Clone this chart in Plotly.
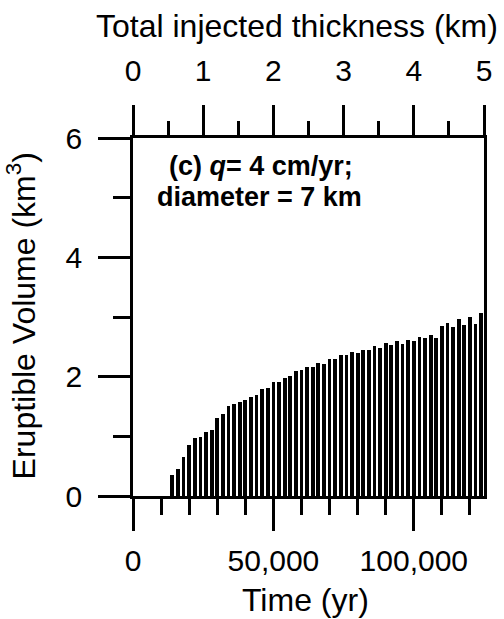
import plotly.graph_objects as go

# Eruption times (yr) and eruptible volume (km^3) at each step
time_yr = [14000, 16000, 18000, 20000, 22000, 24000, 26000, 28000, 30000, 32000,
           34000, 36000, 38000, 40000, 42000, 44000, 46000, 48000, 50000, 52000,
           54000, 56000, 58000, 60000, 62000, 64000, 66000, 68000, 70000, 72000,
           74000, 76000, 78000, 80000, 82000, 84000, 86000, 88000, 90000, 92000,
           94000, 96000, 98000, 100000, 102000, 104000, 106000, 108000, 110000, 112000,
           114000, 116000, 118000, 120000, 122000, 124000]
volume_km3 = [0.36, 0.46, 0.66, 0.85, 0.97, 0.99, 1.08, 1.10, 1.31, 1.38,
              1.51, 1.54, 1.58, 1.61, 1.66, 1.70, 1.79, 1.81, 1.91, 1.91,
              1.98, 2.01, 2.09, 2.11, 2.16, 2.16, 2.23, 2.21, 2.29, 2.30,
              2.36, 2.36, 2.42, 2.40, 2.44, 2.44, 2.51, 2.48, 2.57, 2.53,
              2.60, 2.55, 2.62, 2.60, 2.66, 2.64, 2.70, 2.65, 2.85, 2.90,
              2.83, 2.97, 2.86, 3.00, 2.89, 3.07]

injection_rate_m_per_yr = 0.04  # q = 4 cm/yr

time_ticks = [0, 50000, 100000]
time_tick_labels = ["0", "50,000", "100,000"]
thickness_ticks = [0, 1, 2, 3, 4, 5]
volume_ticks = [0, 2, 4, 6]

# Injected thickness (km) reached at each eruption time
thickness_km = [t * injection_rate_m_per_yr / 1000 for t in time_yr]

FONT = "Liberation Sans, Arial, sans-serif"
LW = 2.6

fig = go.Figure()
fig.add_trace(go.Bar(
    x=time_yr, y=volume_km3, width=1350,
    marker=dict(color="black", line=dict(width=0)),
    showlegend=False, hoverinfo="x+y",
))
# Same volumes against injected thickness; keeps the top axis active
fig.add_trace(go.Scatter(
    x=thickness_km, y=volume_km3, xaxis="x2", mode="markers",
    marker=dict(size=1, opacity=0), showlegend=False, hoverinfo="skip",
))

tickfont = dict(family=FONT, size=30, color="black")

fig.update_layout(
    width=504, height=619, autosize=False,
    margin=dict(l=133, r=15, t=138, b=123),
    paper_bgcolor="white", plot_bgcolor="white",
    bargap=0,
    xaxis=dict(
        range=[0, 125000], showgrid=False, zeroline=False,
        showline=True, linecolor="black", linewidth=LW,
        tickmode="array", tickvals=time_ticks, ticktext=time_tick_labels,
        ticks="outside", ticklen=32, tickwidth=LW, tickcolor="black",
        tickfont=tickfont, ticklabelstandoff=4,
        minor=dict(dtick=10000, tick0=0, ticks="outside", ticklen=16,
                   tickwidth=LW, tickcolor="black"),
    ),
    xaxis2=dict(
        range=[0, 5], overlaying="x", side="top", anchor="y",
        showgrid=False, zeroline=False,
        showline=True, linecolor="black", linewidth=LW,
        tickmode="array", tickvals=thickness_ticks,
        ticks="outside", ticklen=30, tickwidth=LW, tickcolor="black",
        tickfont=tickfont, ticklabelstandoff=12,
        minor=dict(dtick=0.5, tick0=0, ticks="outside", ticklen=14,
                   tickwidth=LW, tickcolor="black"),
    ),
    yaxis=dict(
        range=[0, 6], showgrid=False, zeroline=False,
        showline=True, mirror=True, linecolor="black", linewidth=LW,
        tickmode="array", tickvals=volume_ticks,
        ticks="outside", ticklen=32, tickwidth=LW, tickcolor="black",
        tickfont=tickfont, ticklabelstandoff=10,
        minor=dict(dtick=1, tick0=0, ticks="outside", ticklen=17,
                   tickwidth=LW, tickcolor="black"),
    ),
)

titlefont = dict(family=FONT, size=32, color="black")
boldfont = dict(family=FONT, size=27, color="black", weight="bold")

annotations = [
    dict(text="Total injected thickness (km)", x=0.468, y=1.313,
         font=titlefont),
    dict(text="Time (yr)", x=0.4916, y=-0.2905, font=titlefont),
    dict(text="Eruptible Volume (km<sup>3</sup>)", x=-0.318, y=0.5028,
         textangle=-90, font=titlefont),
    dict(text="<b>(c) <i>q</i>= 4 cm/yr;</b>", x=0.365, y=0.921, font=boldfont),
    dict(text="<b>diameter = 7 km</b>", x=0.3596, y=0.835, font=boldfont),
]
for a in annotations:
    fig.add_annotation(xref="paper", yref="paper", showarrow=False,
                       xanchor="center", yanchor="middle", **a)

fig.write_html("out.html")
